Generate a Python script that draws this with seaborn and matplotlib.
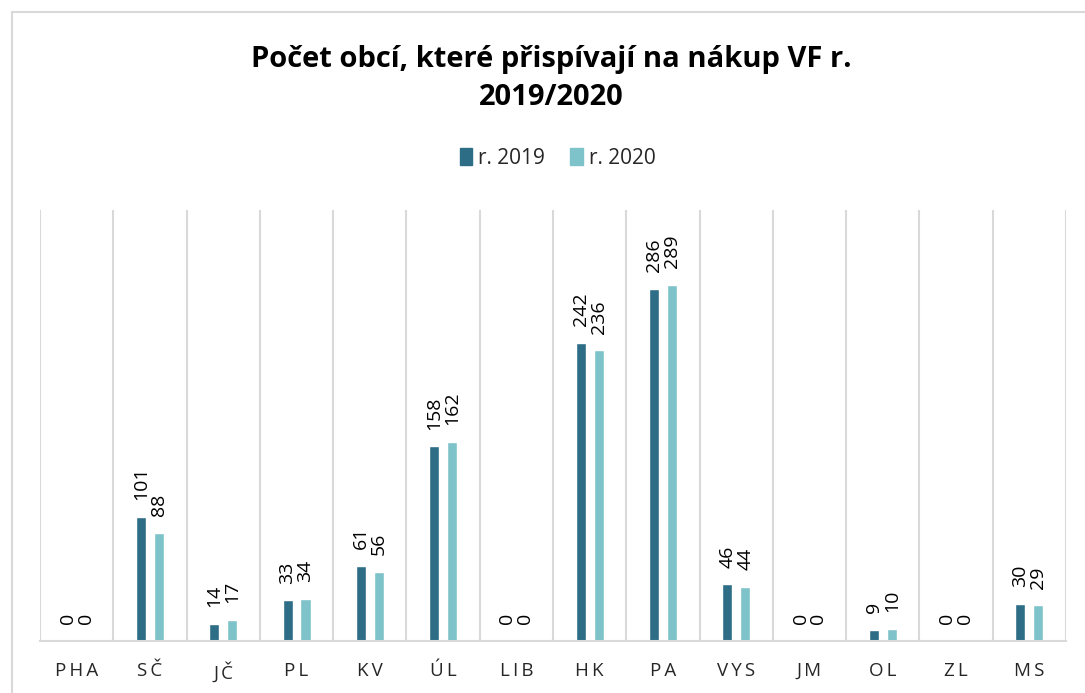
from matplotlib import pyplot as plt
from matplotlib.patches import Rectangle
import pandas as pd
import seaborn as sns
import numpy as np

# data
regions = ['PHA', 'SČ', 'JČ', 'PL', 'KV', 'ÚL', 'LIB', 'HK', 'PA', 'VYS',
           'JM', 'OL', 'ZL', 'MS']
vals_2019 = [0, 101, 14, 33, 61, 158, 0, 242, 286, 46, 0, 9, 0, 30]
vals_2020 = [0, 88, 17, 34, 56, 162, 0, 236, 289, 44, 0, 10, 0, 29]
series = ['r. 2019', 'r. 2020']
colors = ['#2D6D86', '#7EC3C9']

df = pd.DataFrame({
    'kraj': regions * 2,
    'rok': [series[0]] * len(regions) + [series[1]] * len(regions),
    'pocet': vals_2019 + vals_2020,
})

sns.set_style("white")
plt.rcParams['font.family'] = ['Open Sans', 'DejaVu Sans']

fig = plt.figure(figsize=(10.85, 6.93), dpi=100)
ax = fig.add_axes([0.0369, 0.075, 0.9456, 0.622])

sns.barplot(data=df, x='kraj', y='pocet', hue='rok', order=regions,
            hue_order=series, palette=colors, width=0.49, gap=0.44,
            saturation=1, ax=ax, legend=False)

for cont in ax.containers:
    ax.bar_label(cont, rotation=90, padding=12, fontsize=14, color='#000000')

ax.set_ylim(0, 350)
ax.set_xlim(-0.5, len(regions) - 0.5)
ax.set_yticks([])
ax.set(xlabel='', ylabel='')
ax.set_xticks(range(len(regions)))
ax.set_xticklabels(['\u2009'.join(r) for r in regions], fontsize=13.5,
                   color='#262626')
ax.tick_params(axis='x', length=0, pad=15)
ax.set_xticks(np.arange(-0.5, len(regions), 1), minor=True)
ax.tick_params(axis='x', which='minor', length=0)
ax.grid(which='minor', axis='x', color='#D9D9D9', linewidth=1.5)
ax.grid(which='major', visible=False)
for s in ['top', 'left', 'right']:
    ax.spines[s].set_visible(False)
ax.spines['bottom'].set_color('#D9D9D9')
ax.spines['bottom'].set_linewidth(1.5)

# title and legend
fig.text(0.508, 0.887, 'Počet obcí, které přispívají na nákup VF r.\n2019/2020',
         ha='center', va='center', fontsize=21, fontweight='bold',
         linespacing=1.4, color='#000000')
handles = [Rectangle((0, 0), 1, 1, color=c) for c in colors]
fig.legend(handles, series, loc='center', bbox_to_anchor=(0.514, 0.772),
           ncol=2, frameon=False, fontsize=15, handlelength=0.6,
           handleheight=0.9, handletextpad=0.3, columnspacing=1.2)

# chart frame
fig.patches.append(Rectangle((12 / 1085, -0.05), 1.2, 1 - 12 / 693 + 0.05,
                             transform=fig.transFigure, fill=False,
                             edgecolor='#D9D9D9', linewidth=1.5))

plt.savefig('out.png', dpi=100)
